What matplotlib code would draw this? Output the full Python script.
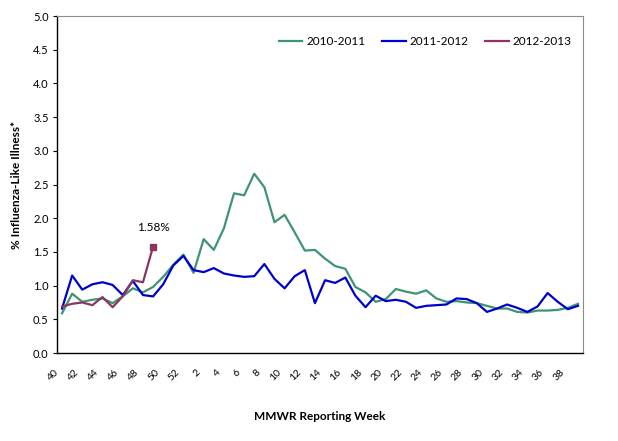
import numpy as np
import matplotlib
matplotlib.use("Agg")
import matplotlib.pyplot as plt
import matplotlib.transforms as mtrans

# MMWR weeks, season runs from week 40 to week 39
weeks = list(range(40, 53)) + list(range(1, 40))

ili_2010_2011 = [
    0.59, 0.88, 0.76, 0.79, 0.81, 0.74, 0.84, 0.96, 0.90, 0.98,
    1.13, 1.31, 1.46, 1.19, 1.69, 1.53, 1.85, 2.37, 2.34, 2.66,
    2.46, 1.94, 2.05, 1.79, 1.52, 1.53, 1.40, 1.29, 1.25, 0.98,
    0.90, 0.76, 0.80, 0.95, 0.91, 0.88, 0.93, 0.81, 0.76, 0.77,
    0.75, 0.74, 0.70, 0.66, 0.66, 0.61, 0.60, 0.63, 0.63, 0.64,
    0.67, 0.73,
]
ili_2011_2012 = [
    0.66, 1.15, 0.94, 1.02, 1.05, 1.01, 0.86, 1.07, 0.86, 0.84,
    1.02, 1.30, 1.44, 1.23, 1.20, 1.26, 1.18, 1.15, 1.13, 1.14,
    1.32, 1.10, 0.96, 1.14, 1.23, 0.74, 1.08, 1.04, 1.12, 0.85,
    0.68, 0.85, 0.77, 0.79, 0.76, 0.67, 0.70, 0.71, 0.72, 0.81,
    0.80, 0.74, 0.61, 0.66, 0.72, 0.67, 0.61, 0.69, 0.89, 0.76,
    0.65, 0.70,
]
ili_2012_2013 = [0.69, 0.73, 0.75, 0.71, 0.83, 0.68, 0.84, 1.08, 1.05, 1.58]

plt.rcParams["font.family"] = ["Lato", "DejaVu Sans"]

fig = plt.figure(figsize=(6.18, 4.41), dpi=100)
ax = fig.add_axes([0.0922, 0.1995, 0.8512, 0.7642])

x = np.arange(len(weeks))
ax.plot(x, ili_2010_2011, color="#3f9471", lw=1.6, label="2010-2011")
ax.plot(x, ili_2011_2012, color="#0000cc", lw=1.6, label="2011-2012")
xp = x[: len(ili_2012_2013)]
ax.plot(xp, ili_2012_2013, color="#8b3562", lw=1.6, label="2012-2013")
ax.plot(xp[-1], ili_2012_2013[-1], "s", color="#8b3562", ms=5)
ax.annotate(f"{ili_2012_2013[-1]:.2f}%", (xp[-1], ili_2012_2013[-1]),
            xytext=(0, 10), textcoords="offset points", ha="center",
            va="bottom", fontsize=8.5)

ax.set_xlim(-0.5, len(weeks) - 0.5)
ax.set_ylim(0, 5.0)
ax.set_yticks(np.arange(0, 5.01, 0.5))
ax.set_yticklabels([f"{v:.1f}" for v in np.arange(0, 5.01, 0.5)], fontsize=8)
ax.set_xticks(x[::2])
ax.set_xticklabels([str(w) for w in weeks[::2]], fontsize=7.5,
                   rotation=45, ha="right", va="center",
                   rotation_mode="anchor")
ax.tick_params(axis="x", length=0, pad=13)
ax.tick_params(axis="y", length=3, width=0.8, direction="out", pad=3)

# nudge the week labels left, as in the original
shift = mtrans.ScaledTranslation(-5 / 100, 0, fig.dpi_scale_trans)
for lbl in ax.get_xticklabels():
    lbl.set_transform(lbl.get_transform() + shift)

for side in ["top", "right"]:
    ax.spines[side].set_color("#8c8c8c")
for side in ["left", "bottom"]:
    ax.spines[side].set_color("black")
ax.spines["left"].set_linewidth(1.0)
ax.spines["bottom"].set_linewidth(1.0)

ax.set_xlabel("MMWR Reporting Week", fontsize=8.5, fontweight="bold", labelpad=20)
ax.set_ylabel("% Influenza-Like Illness*", fontsize=8.5, fontweight="bold", labelpad=8)

ax.legend(loc="center", bbox_to_anchor=(0.70, 0.923), ncol=3, frameon=False,
          fontsize=8.5, handlelength=2.0, handletextpad=0.35, columnspacing=1.4)

fig.savefig("out.png", dpi=100)
